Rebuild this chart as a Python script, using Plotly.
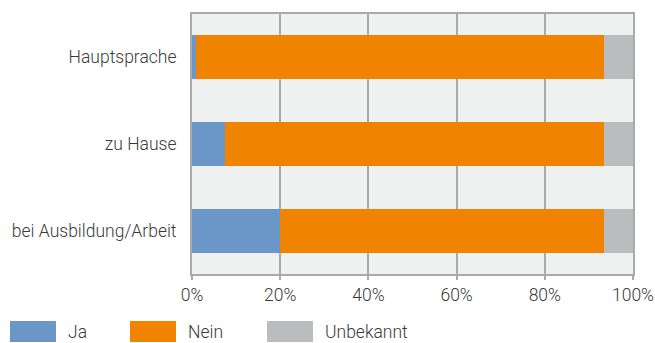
import plotly.graph_objects as go

# Categories listed bottom-to-top as drawn on the y axis
categories = ["bei Ausbildung/Arbeit", "zu Hause", "Hauptsprache"]
series_names = ["Ja", "Nein", "Unbekannt"]
ja = [20.0, 7.5, 1.0]
nein = [73.4, 85.9, 92.4]
unbekannt = [6.6, 6.6, 6.6]
series_values = [ja, nein, unbekannt]
colors = ["#6a96c8", "#f08300", "#bbbcbe"]
x_ticks = [0, 20, 40, 60, 80, 100]
x_tick_labels = ["0%", "20%", "40%", "60%", "80%", "100%"]

FONT = dict(family="Roboto", size=17.5, color="#3a3a3a", weight=300)

fig = go.Figure()
for name, vals, col in zip(series_names, series_values, colors):
    fig.add_trace(go.Bar(
        y=categories, x=vals, name=name, orientation="h",
        marker=dict(color=col, line=dict(width=0)),
        showlegend=False,
    ))

# Custom legend row: wide colour swatches with labels
W, H = 655, 343
L, R, T, B = 192, 633, 14, 274
legend_x = [10, 130, 267]
for lx, name, col in zip(legend_x, series_names, colors):
    fig.add_shape(type="rect", xref="paper", yref="paper",
                  x0=(lx - L) / (R - L), x1=(lx + 46 - L) / (R - L),
                  y0=-(342 - B) / (B - T), y1=-(321 - B) / (B - T),
                  fillcolor=col, line=dict(width=0), layer="above")
    fig.add_annotation(xref="paper", yref="paper",
                       x=(lx + 56 - L) / (R - L),
                       y=-(331.5 - B) / (B - T),
                       text=name, showarrow=False, xanchor="left", yanchor="middle",
                       font=FONT)

fig.update_layout(
    barmode="stack",
    bargap=0.49,
    width=W, height=H,
    margin=dict(l=L, r=W - R, t=T, b=H - B, autoexpand=False),
    paper_bgcolor="white",
    plot_bgcolor="#eff0f0",
    font=FONT,
)
fig.update_xaxes(
    range=[0, 100], tickvals=x_ticks, ticktext=x_tick_labels,
    showgrid=True, gridcolor="#aaaaaa", gridwidth=2,
    showline=True, linecolor="#aaaaaa", linewidth=2, mirror=True,
    ticks="outside", ticklen=4, tickcolor="#aaaaaa", tickwidth=2,
    zeroline=False, fixedrange=True, automargin=False,
)
fig.update_yaxes(
    categoryorder="array", categoryarray=categories,
    range=[-0.5, 2.5],
    showgrid=False,
    showline=True, linecolor="#aaaaaa", linewidth=2, mirror=True,
    ticks="", ticklabelstandoff=10,
    fixedrange=True, automargin=False,
)

fig.write_html("out.html")
